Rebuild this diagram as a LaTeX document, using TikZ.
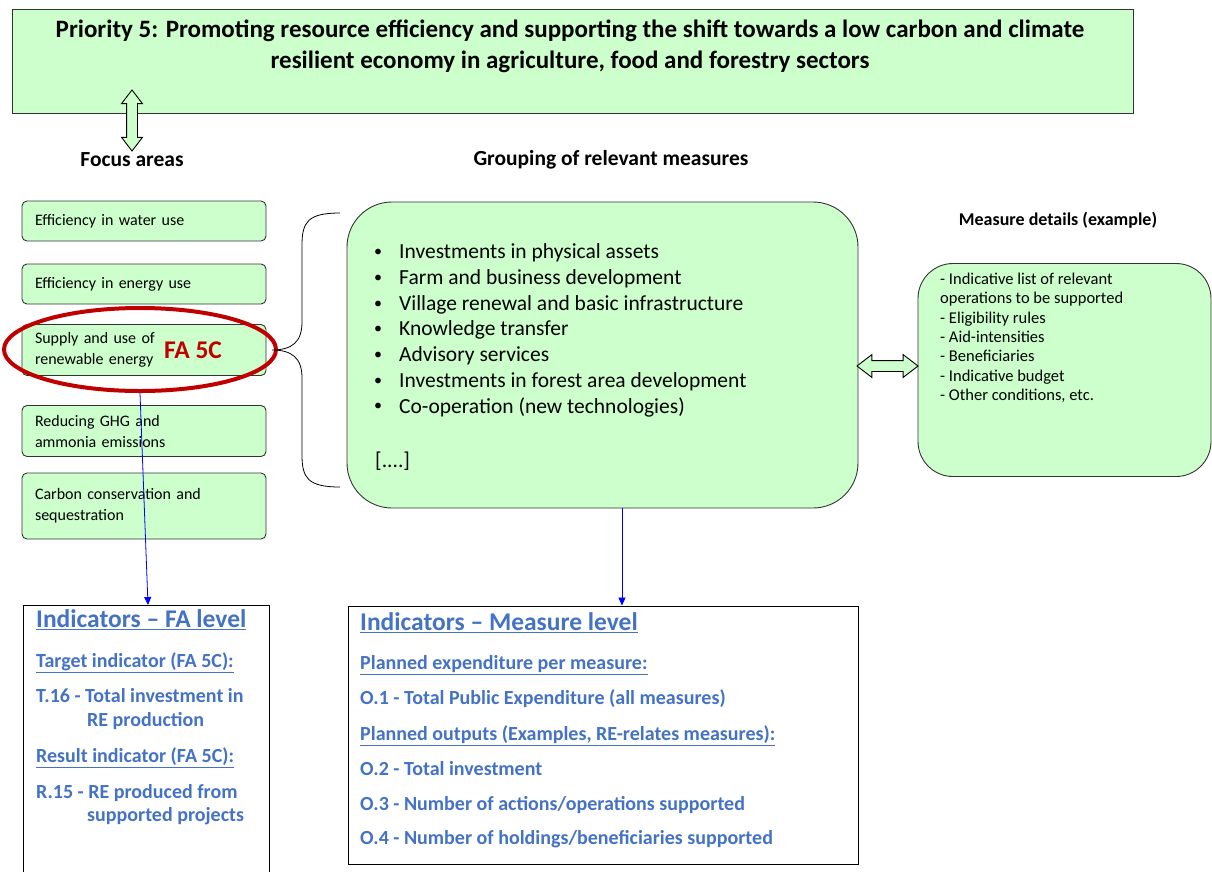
\documentclass[tikz,border=0pt]{standalone}
\usepackage{fontspec}
\setmainfont{Carlito}
\usetikzlibrary{shapes.geometric,shapes.arrows,arrows.meta,positioning}

\definecolor{paleGreen}{HTML}{CCFFCC}
\definecolor{indBlue}{RGB}{68,114,196}
\definecolor{ringRed}{HTML}{C00000}

\tikzset{
  greenbox/.style={draw=black!80, fill=paleGreen, line width=0.9pt},
  fabox/.style={greenbox, rounded corners=5pt, minimum width=244pt, text width=218pt,
    inner xsep=13pt, align=left, font=\fontsize{16}{21}\selectfont},
  headtext/.style={font=\bfseries\fontsize{21.5}{24}\selectfont},
  blockarrow/.style={double arrow, draw=black, fill=paleGreen, line width=0.9pt,
    inner xsep=0pt, inner ysep=5pt, double arrow head extend=5pt, double arrow tip angle=75},
  link/.style={draw=blue, line width=0.8pt, -{Triangle[width=7pt,length=8pt]}},
  indbox/.style={draw=black, line width=0.9pt, fill=white, inner sep=0pt},
  indline/.style={anchor=west, text=indBlue, font=\bfseries\fontsize{20}{24}\selectfont,
    inner sep=0pt, text height=0.7em, text depth=0.2em},
  indhead/.style={indline, font=\bfseries\fontsize{25.5}{28}\selectfont},
  listline/.style={anchor=west, inner sep=0pt, font=\fontsize{21.5}{25}\selectfont},
}

\begin{document}
\begin{tikzpicture}[x=1pt,y=-1pt]
\useasboundingbox (0,0) rectangle (1212,871);

% priority box
\node[greenbox, minimum width=1121pt, minimum height=104pt] (prio) at (572.5,61) {};
\node[align=center, font=\bfseries\fontsize{25}{31}\selectfont] (ptitle) at (570,46)
  {Priority 5: Promoting resource efficiency and supporting the shift towards a low carbon and climate\\
   resilient economy in agriculture, food and forestry sectors};

% column headings
\node[headtext] (hfocus) at (132,160) {Focus areas};
\node[headtext] (hgroup) at (611,160) {Grouping of relevant measures};
\node[font=\bfseries\fontsize{18}{21}\selectfont] (hdetail) at (1058,220) {Measure details (example)};

\node[blockarrow, rotate=90, minimum height=61pt] (updown) at (132,120.5) {};

% focus areas
\node[fabox, minimum height=40pt] (fa1) at (144,221) {Efficiency in water use};
\node[fabox, minimum height=40pt] (fa2) at (144,284) {Efficiency in energy use};
\node[fabox, minimum height=51pt] (fa3) at (144,350) {Supply and use of\\renewable energy};
\node[fabox, minimum height=51pt] (fa4) at (144,431) {Reducing GHG and\\ammonia emissions};
\node[fabox, minimum height=66pt] (fa5) at (144,506) {Carbon conservation and\\sequestration};

\node[ellipse, draw=ringRed, line width=4pt, minimum width=272pt, minimum height=83pt] (ring) at (140,349.5) {};
\node[text=ringRed, font=\bfseries\fontsize{25.5}{28}\selectfont] (fa5c) at (193,350) {FA 5C};

% brace
\draw[line width=0.8pt] (340,213) .. controls (308,213) and (302,222) .. (302,245) -- (302,322)
  .. controls (302,342) and (292,350) .. (272,350) .. controls (292,350) and (302,358) .. (302,378)
  -- (302,455) .. controls (302,478) and (308,487) .. (340,487);

% grouped measures
\node[greenbox, rounded corners=45pt, minimum width=511pt, minimum height=306pt] (grp) at (602.5,355) {};
\foreach \t [count=\i] in {Investments in physical assets, Farm and business development,
  Village renewal and basic infrastructure, Knowledge transfer, Advisory services,
  Investments in forest area development, Co-operation (new technologies)}
{
  \node[anchor=center, inner sep=0pt, font=\fontsize{16}{18}\selectfont] (b\i) at (378,227.3+25.7*\i) {\textbullet};
  \node[listline] (m\i) at (399,227.3+25.7*\i) {\t};
}
\node[listline] (mdots) at (375,461) {[....]};

% measure details
\node[greenbox, rounded corners=35pt, minimum width=293pt, minimum height=213pt] (detail) at (1064.5,370) {};
\node[anchor=north west, align=left, inner sep=0pt, font=\fontsize{16.5}{19.3}\selectfont] (dtext) at (940,273)
  {- Indicative list of relevant\\operations to be supported\\- Eligibility rules\\- Aid-intensities\\
   - Beneficiaries\\- Indicative budget\\- Other conditions, etc.};

\node[blockarrow, minimum height=61pt, double arrow head extend=6pt] (leftright) at (887.5,366) {};

% indicator boxes
\node[indbox, minimum width=246pt, minimum height=280pt] (faind) at (146,745) {};
\node[indbox, minimum width=510pt, minimum height=258pt] (msind) at (603,735) {};
\coordinate (faIn) at (148,605);

\draw[link] (ring.south) -- (faIn);
\draw[link] (grp.south -| 622,0) -- (msind.north -| 622,0);

\node[indhead] (fah) at (36,625) {\underline{Indicators – FA level}};
\node[indline] (fat) at (36,665) {\underline{Target indicator (FA 5C):}};
\node[indline] (fat1) at (36,700) {T.16 - Total investment in};
\node[indline] (fat2) at (87,724) {RE production};
\node[indline] (far) at (36,760) {\underline{Result indicator (FA 5C):}};
\node[indline] (far1) at (36,796) {R.15 - RE produced from};
\node[indline] (far2) at (87,819) {supported projects};

\node[indhead] (msh) at (360,628) {\underline{Indicators – Measure level}};
\node[indline] (msp) at (360,667) {\underline{Planned expenditure per measure:}};
\node[indline] (mso1) at (360,702) {O.1 - Total Public Expenditure (all measures)};
\node[indline] (mspo) at (360,738) {\underline{Planned outputs (Examples, RE-relates measures):}};
\node[indline] (mso2) at (360,773) {O.2 - Total investment};
\node[indline] (mso3) at (360,808) {O.3 - Number of actions/operations supported};
\node[indline] (mso4) at (360,842) {O.4 - Number of holdings/beneficiaries supported};
\end{tikzpicture}
\end{document}
